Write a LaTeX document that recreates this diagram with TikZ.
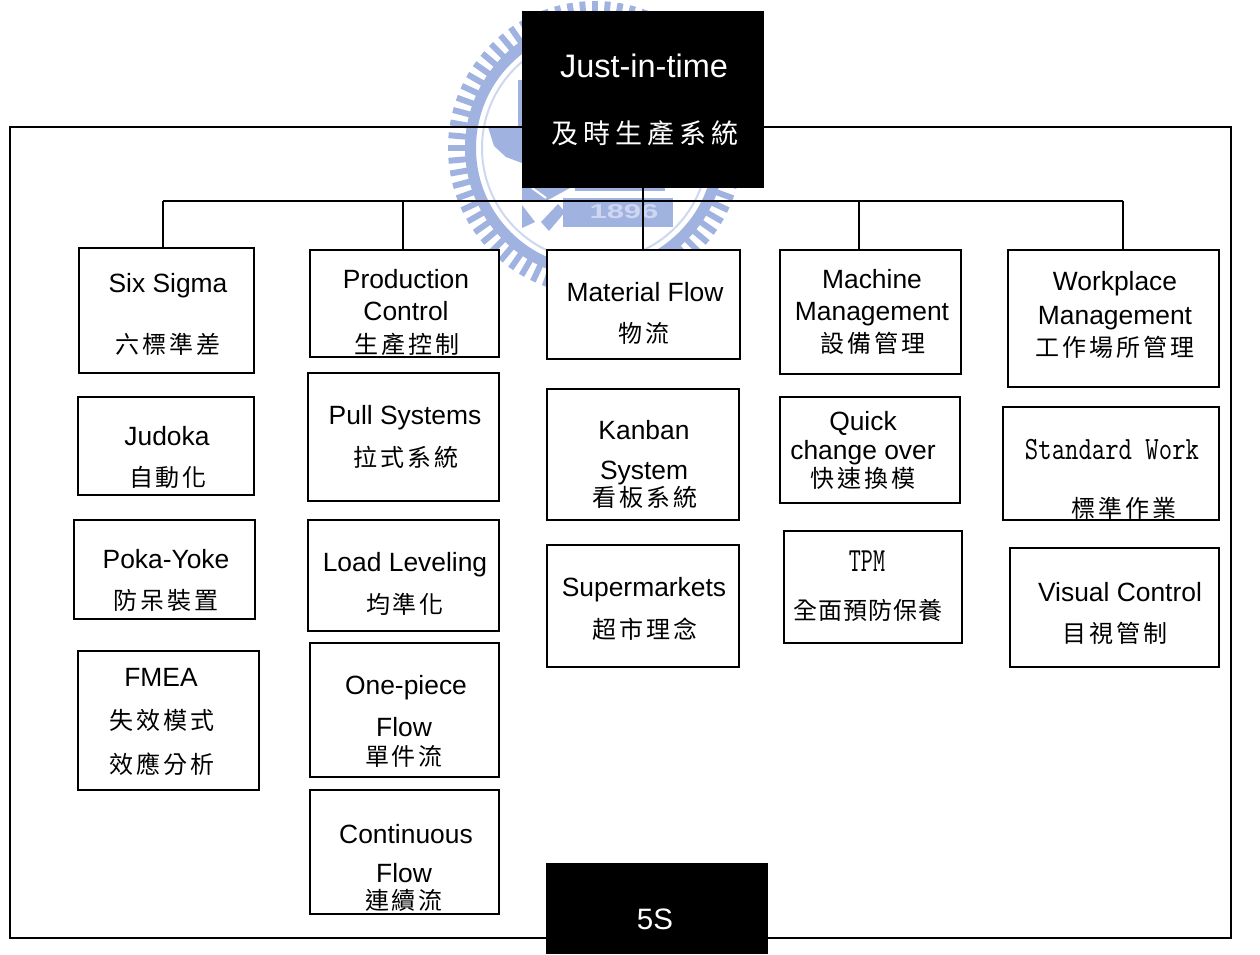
\documentclass[tikz,border=0pt]{standalone}
\usepackage{fontspec}
\setmainfont{Liberation Sans}
\newfontfamily\cjk[LetterSpace=12]{Noto Sans CJK TC}
\newfontfamily\cjkw[LetterSpace=18]{Noto Sans CJK TC}
\newfontfamily\cjkn[LetterSpace=4]{Noto Sans CJK TC}
\definecolor{wm}{RGB}{160,178,224}
\definecolor{wml}{RGB}{205,215,240}
\tikzset{
  en/.style={font=\fontsize{26.4}{26.4}\selectfont,inner sep=0pt,anchor=base},
  zh/.style={font=\fontsize{24}{24}\cjk,inner sep=0pt,anchor=center},
  box/.style={draw=black,line width=2pt,fill=white,inner sep=0pt},
  blackbox/.style={fill=black,draw=none,inner sep=0pt},
  conn/.style={draw=black,line width=2pt},
  mono/.style={font=\fontsize{26}{26}\ttfamily,inner sep=0pt,anchor=base},
}
\newcount\tn
\newcommand{\bx}[6][box]{\node[#1,minimum width={#5-#3},minimum height={#6-#4}] (#2) at ({(#3+#5)/2},{(#4+#6)/2}) {};}
\newcommand{\te}[3]{\global\advance\tn by 1 \node[en] (t\the\tn) at (#1,#2+9.5) {#3};}
\newcommand{\tz}[3]{\global\advance\tn by 1 \node[zh] (t\the\tn) at (#1,#2) {#3};}
\begin{document}
\begin{tikzpicture}[x=1pt,y=-1pt]
\useasboundingbox (0,0) rectangle (1260,954);
% watermark: toothed ring
\foreach \a in {0,5,...,355} {
  \fill[wm,rotate around={\a:(595,148)}] (595-3,148-147) rectangle (595+3,148-128);
}
\draw[wm,line width=11pt] (595,148) circle (124.5);
\draw[wml,line width=2pt] (595,148) circle (113);
% watermark: inner emblem
\fill[wm] (518,80) -- (522,80) -- (522,163) -- (506,157) -- (494,146) -- (488,127) -- (518,127) -- cycle;
\fill[wm] (575,188) rectangle (665,190.5);
\fill[wm] (522,188) -- (570,188) -- (548,200) -- (522,200) -- cycle;
\draw[white,line width=2pt] (532,188) -- (546,198);
\fill[wm] (522,205) -- (535,222) -- (522,228) -- cycle;
\fill[wm] (541,222) -- (558,204) -- (565,212) -- (549,231) -- cycle;
\fill[wm] (563,198) rectangle (673,227);
\node[font=\bfseries\fontsize{20}{20}\selectfont,text=wml,inner sep=0pt,xscale=1.55] (wmyear) at (624,212) {1896};
% frame
\node[draw=black,line width=2pt,inner sep=0pt,minimum width=1221pt,minimum height=811pt] (frame) at (620.5,532.5) {};
% top bus coordinates
\coordinate (bus0) at (163,201);
\coordinate (bus1) at (403,201);
\coordinate (bus2) at (643,201);
\coordinate (bus3) at (859,201);
\coordinate (bus4) at (1123,201);
% boxes
\bx{six}{79}{248}{254}{373}
\bx{judoka}{78}{397}{254}{495}
\bx{poka}{74}{520}{255}{619}
\bx{fmea}{78}{651}{259}{790}
\bx{prod}{310}{250}{499}{357}
\bx{pull}{308}{373}{499}{501}
\bx{load}{308}{520}{499}{631}
\bx{onepiece}{310}{643}{499}{777}
\bx{cont}{310}{790}{499}{914}
\bx{mat}{547}{250}{740}{359}
\bx{kanban}{547}{389}{739}{520}
\bx{super}{547}{545}{739}{667}
\bx{mach}{780}{250}{961}{374}
\bx{quick}{780}{397}{960}{503}
\bx{tpm}{784}{531}{962}{643}
\bx{work}{1008}{250}{1219}{387}
\bx{std}{1003}{407}{1219}{520}
\bx{vis}{1010}{548}{1219}{667}
\bx[blackbox]{jit}{522}{11}{764}{188}
\bx[blackbox]{fives}{546}{863}{768}{954}
% connectors
\draw[conn] (bus0) -- (bus4);
\draw[conn] (jit.south -| bus2) -- (mat.north -| bus2);
\draw[conn] (bus0) -- (six.north -| bus0);
\draw[conn] (bus1) -- (prod.north -| bus1);
\draw[conn] (bus3) -- (mach.north -| bus3);
\draw[conn] (bus4) -- (work.north -| bus4);
% texts
\begingroup
\tikzset{en/.append style={text=white},zh/.append style={text=white,font=\fontsize{27}{27}\cjkw}}
\node[en,font=\fontsize{32.5}{32.5}\selectfont] (jitA) at (644,77) {Just-in-time};
\node[zh] (jitB) at (645,133) {及時生產系統};
\node[en,font=\fontsize{29.5}{29.5}\selectfont] (fivesA) at (655,929) {5S};
\endgroup
\te{168}{283}{Six Sigma}
\tz{168}{344}{六標準差}
\te{167}{436}{Judoka}
\tz{168}{477}{自動化}
\te{166}{559}{Poka-Yoke}
\tz{166}{600}{防呆裝置}
\te{161}{677}{FMEA}
\tz{162}{720}{失效模式}
\tz{162}{764}{效應分析}
\te{406}{279}{Production}
\te{406}{311}{Control}
\tz{407}{344}{生產控制}
\te{405}{415}{Pull Systems}
\tz{406}{457}{拉式系統}
\te{405}{562}{Load Leveling}
\tz{405}{604}{均準化}
\te{406}{685}{One-piece}
\te{404}{727}{Flow}
\tz{404}{756}{單件流}
\te{406}{834}{Continuous}
\te{404}{873}{Flow}
\tz{404}{900}{連續流}
\te{645}{292}{Material Flow}
\tz{644}{333}{物流}
\te{644}{430}{Kanban}
\te{644}{470}{System}
\tz{645}{497}{看板系統}
\te{644}{587}{Supermarkets}
\tz{645}{629}{超市理念}
\te{872}{279}{Machine}
\te{872}{311}{Management}
\tz{873}{343}{設備管理}
\te{863}{421}{Quick}
\te{863}{450}{change over}
\tz{863}{478}{快速換模}
\node[mono,xscale=.9,yscale=1.3] (tpmA) at (867,571.5) {TPM};
\node[zh,font=\fontsize{24}{24}\cjkn] (tpmB) at (868,610) {全面預防保養};
\te{1115}{281}{Workplace}
\te{1115}{315}{Management}
\tz{1115}{347}{工作場所管理}
\node[mono,yscale=1.25] (stdA) at (1112,459.3) {Standard Work};
\tz{1124}{508}{標準作業}
\te{1120}{592}{Visual Control}
\tz{1115}{633}{目視管制}
\end{tikzpicture}
\end{document}
